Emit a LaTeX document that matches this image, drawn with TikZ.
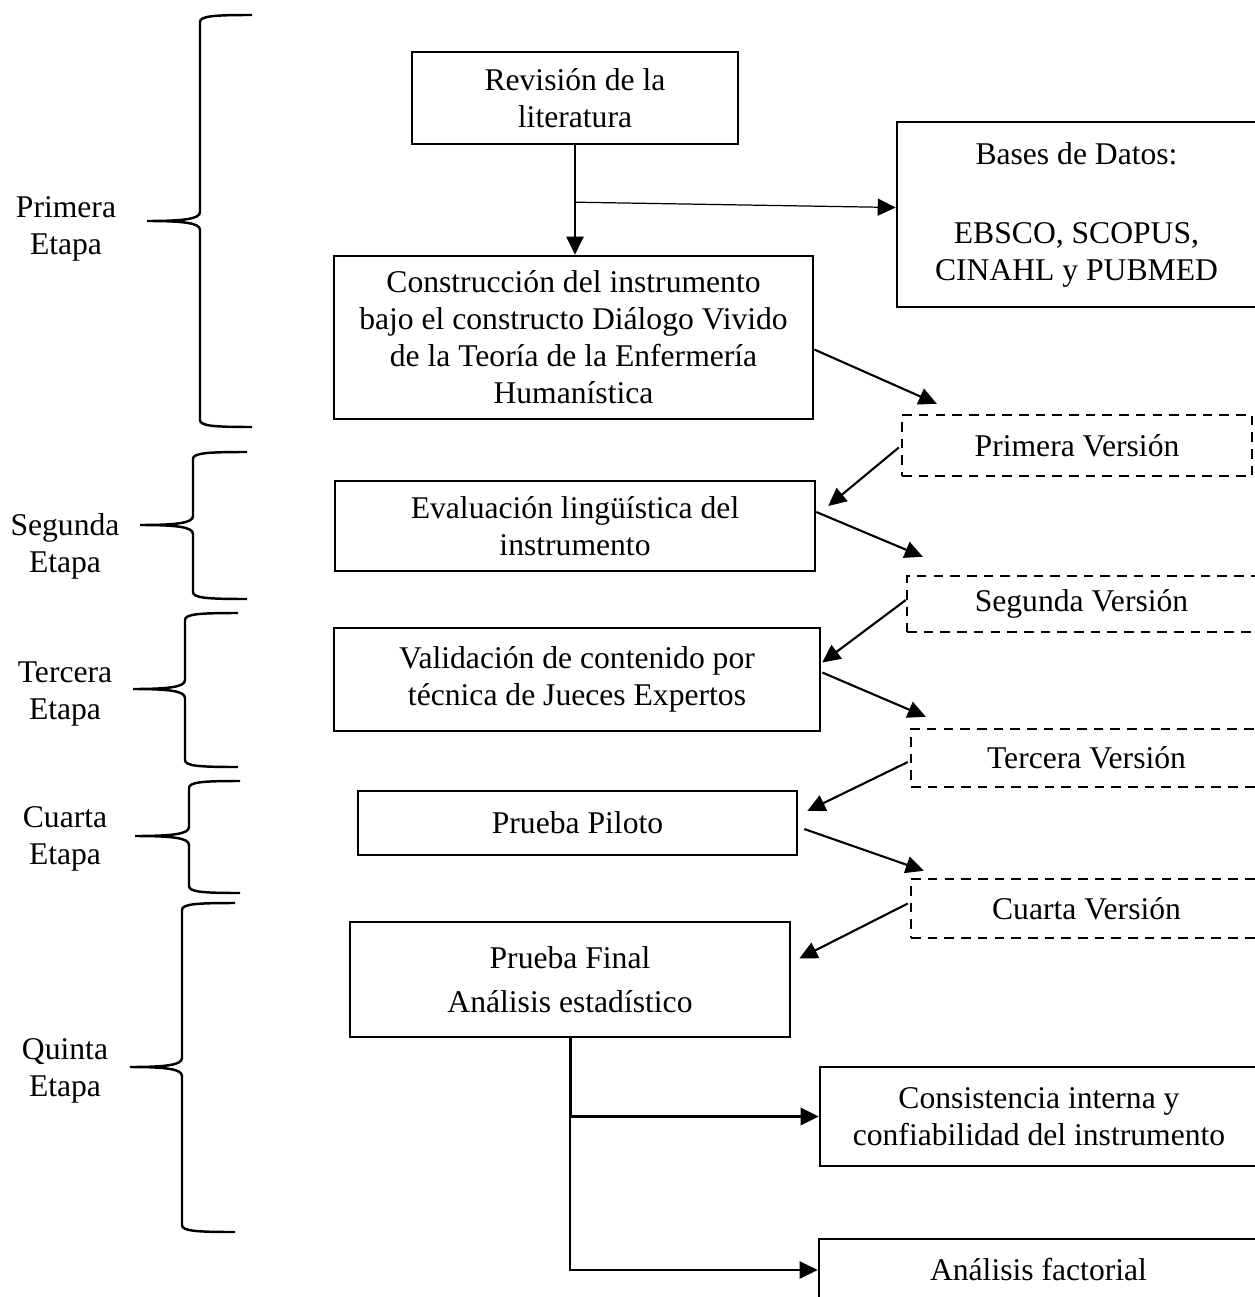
\documentclass[tikz,border=0pt]{standalone}
\usepackage{fontspec}
\setmainfont{Liberation Serif}
\usetikzlibrary{arrows.meta,calc}
\newcommand{\Llave}[6]{%
  \draw[llave] (#6,#2) .. controls (#1+14,#2) and (#1,#2+1) .. (#1,#2+7)
    -- (#1,#4-9) .. controls (#1,#4-2) and (#1-16,#4) .. (#5,#4)
    .. controls (#1-16,#4) and (#1,#4+2) .. (#1,#4+9)
    -- (#1,#3-7) .. controls (#1,#3-1) and (#1+14,#3) .. (#6,#3);}

\begin{document}
\begin{tikzpicture}[x=0.02cm,y=-0.02cm,
  every node/.style={font=\fontsize{18}{21}\selectfont},
  caja/.style={draw,line width=1.5pt,inner sep=0pt,align=center},
  version/.style={caja,dashed,dash pattern=on 5.5pt off 4pt,line width=1.4pt},
  etapa/.style={align=center},
  flecha/.style={line width=1.2pt,-{Triangle[length=0.36cm,width=0.34cm]}},
  llave/.style={line width=1.4pt}]
\useasboundingbox (0,0) rectangle (1254,1297);

% etapas
\Llave{200}{15}{427}{221}{147}{252}
\Llave{193}{452}{599}{525}{140}{247}
\Llave{185}{613}{767}{689}{133}{238}
\Llave{189}{781}{893}{836}{135}{240}
\Llave{182}{903}{1232}{1067}{130}{235}
\node[etapa] (e1) at (66,229) {Primera\\Etapa};
\node[etapa] (e2) at (65,546) {Segunda\\Etapa};
\node[etapa] (e3) at (65,694) {Tercera\\Etapa};
\node[etapa] (e4) at (65,839) {Cuarta\\Etapa};
\node[etapa] (e5) at (65,1071) {Quinta\\Etapa};

% cajas
\node[caja,minimum width=6.52cm,minimum height=1.84cm] (rev) at (575,98) {Revisi\'on de la\\literatura};
\node[caja,minimum width=9.58cm,minimum height=3.26cm] (constr) at (573.5,337.5)
  {Construcci\'on del instrumento\\bajo el constructo Di\'alogo Vivido\\de la Teor\'ia de la Enfermer\'ia\\Human\'istica};
\node[caja,minimum width=7.18cm,minimum height=3.7cm] (bases) at (1076.5,214.5)
  {Bases de Datos:\\[24pt]EBSCO, SCOPUS,\\CINAHL y PUBMED};
\node[caja,minimum width=9.6cm,minimum height=1.8cm] (eval) at (575,526) {Evaluaci\'on ling\"u\'istica del\\instrumento};
\node[caja,minimum width=9.72cm,minimum height=2.06cm] (val) at (577,679.5) {Validaci\'on de contenido por\\t\'ecnica de Jueces Expertos};
\node[caja,minimum width=8.78cm,minimum height=1.28cm] (pp) at (577.5,823) {Prueba Piloto};
\node[caja,minimum width=8.8cm,minimum height=2.3cm] (pf) at (570,979.5) {Prueba Final\\[4pt]An\'alisis estad\'istico};
\node[caja,minimum width=8.76cm,minimum height=1.98cm] (cons) at (1039,1116.5) {Consistencia interna y\\confiabilidad del instrumento};
\node[caja,minimum width=8.78cm,minimum height=1.24cm] (af) at (1038.5,1270) {An\'alisis factorial};

\node[version,minimum width=7.0cm,minimum height=1.22cm] (pv) at (1077,445.5) {Primera Versi\'on};
\node[version,minimum width=6.98cm,minimum height=1.12cm] (sv) at (1081.5,604) {Segunda Versi\'on};
\node[version,minimum width=7.02cm,minimum height=1.16cm] (tv) at (1086.5,758) {Tercera Versi\'on};
\node[version,minimum width=7.02cm,minimum height=1.18cm] (cv) at (1086.5,908.5) {Cuarta Versi\'on};

% flechas
\draw[flecha] (rev.south) -- (rev.south |- constr.north);
\coordinate (ramal) at ($(rev.south)!0.52!(rev.south |- constr.north)$);
\draw[flecha,line width=0.7pt] (ramal) -- ($(bases.west)+(0,-7)$);

\draw[flecha] ($(constr.east)+(0,12)$) -- ($(pv.north west)+(36,-10)$);
\draw[flecha] ($(pv.west)+(-2,2)$) -- ($(eval.east)+(12,-20)$);
\draw[flecha] ($(eval.east)+(0,-14)$) -- ($(sv.north west)+(17,-18)$);
\draw[flecha] ($(sv.west)+(0,-4)$) -- ($(val.east)+(1,-17)$);
\draw[flecha] ($(val.east)+(1,-7)$) -- ($(tv.north west)+(16,-11)$);
\draw[flecha] ($(tv.west)+(-2,4)$) -- ($(pp.east)+(9,-12)$);
\draw[flecha] ($(pp.east)+(6,6)$) -- ($(cv.north west)+(14,-7)$);
\draw[flecha] ($(cv.west)+(-2,-5)$) -- ($(pf.east)+(8,-21)$);

\draw[flecha,line width=1.7pt] (pf.south) |- (cons.west);
\draw[flecha] (pf.south) |- (af.west);

\end{tikzpicture}
\end{document}
